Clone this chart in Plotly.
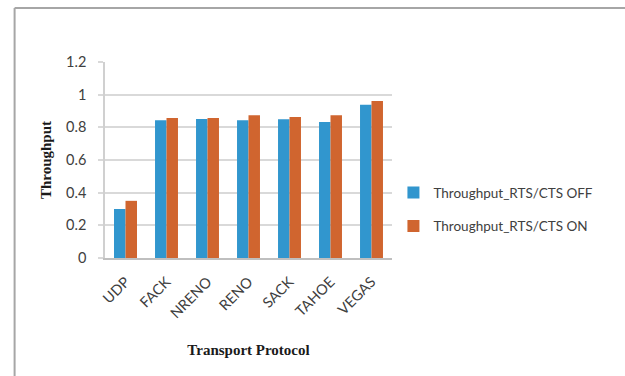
import plotly.graph_objects as go

protocols = ["UDP", "FACK", "NRENO", "RENO", "SACK", "TAHOE", "VEGAS"]
rts_off = [0.30, 0.843, 0.851, 0.843, 0.849, 0.833, 0.939]
rts_on = [0.35, 0.857, 0.857, 0.874, 0.863, 0.874, 0.961]
y_ticks = [0, 0.2, 0.4, 0.6, 0.8, 1, 1.2]
y_tick_text = ["0", "0.2", "0.4", "0.6", "0.8", "1", "1.2"]

BLUE = "#3196CE"
ORANGE = "#D0652F"
tick_font = dict(family="Lato, Open Sans, sans-serif", size=14.5, color="#404040")

fig = go.Figure()
fig.add_trace(go.Bar(x=protocols, y=rts_off, name="Throughput_RTS/CTS OFF",
                     legendgroup="off",
                     marker=dict(color=BLUE, line=dict(width=0))))
fig.add_trace(go.Bar(x=protocols, y=rts_on, name="Throughput_RTS/CTS ON",
                     legendgroup="on",
                     marker=dict(color=ORANGE, line=dict(width=0))))

fig.update_layout(
    width=625, height=376,
    margin=dict(l=104.5, r=233, t=62, b=118, autoexpand=False),
    paper_bgcolor="white", plot_bgcolor="white",
    barmode="group", bargap=0.44, bargroupgap=0,
    showlegend=True,
    legend=dict(x=1.005, y=0.246, xanchor="left", yanchor="middle",
                font=dict(family="Lato, Open Sans, sans-serif", size=13.5, color="#404040"),
                itemwidth=30, tracegroupgap=13, bgcolor="rgba(0,0,0,0)"),
    xaxis=dict(
        tickangle=-45, tickfont=tick_font,
        showline=True, linecolor="#BFBFBF", linewidth=1.5,
        ticks="", showgrid=False, ticklabelstandoff=8,
        title=dict(text="<b>Transport Protocol</b>", standoff=24,
                   font=dict(family="Liberation Serif, Times New Roman, serif", size=15, color="#1a1a1a")),
    ),
    yaxis=dict(
        range=[0, 1.2], tickvals=y_ticks, ticktext=y_tick_text,
        tickfont=tick_font,
        showgrid=True, gridcolor="#D9D9D9", gridwidth=1.5,
        showline=True, linecolor="#D0D0D0", linewidth=1.5,
        ticks="outside", ticklen=5, tickcolor="#D9D9D9", tickwidth=1.5,
        zeroline=False, ticklabelstandoff=9,
        title=dict(text="<b>Throughput</b>", standoff=11,
                   font=dict(family="Liberation Serif, Times New Roman, serif", size=15, color="#1a1a1a")),
    ),
)

# outer frame lines (top and left edges) of the chart border
fig.add_shape(type="line", xref="paper", yref="paper",
              x0=-0.315, x1=1.85, y0=1.275, y1=1.275,
              line=dict(color="#A6A6A6", width=2))
fig.add_shape(type="line", xref="paper", yref="paper",
              x0=-0.315, x1=-0.315, y0=1.275, y1=-0.7,
              line=dict(color="#A6A6A6", width=2))

fig.write_html("out.html")
